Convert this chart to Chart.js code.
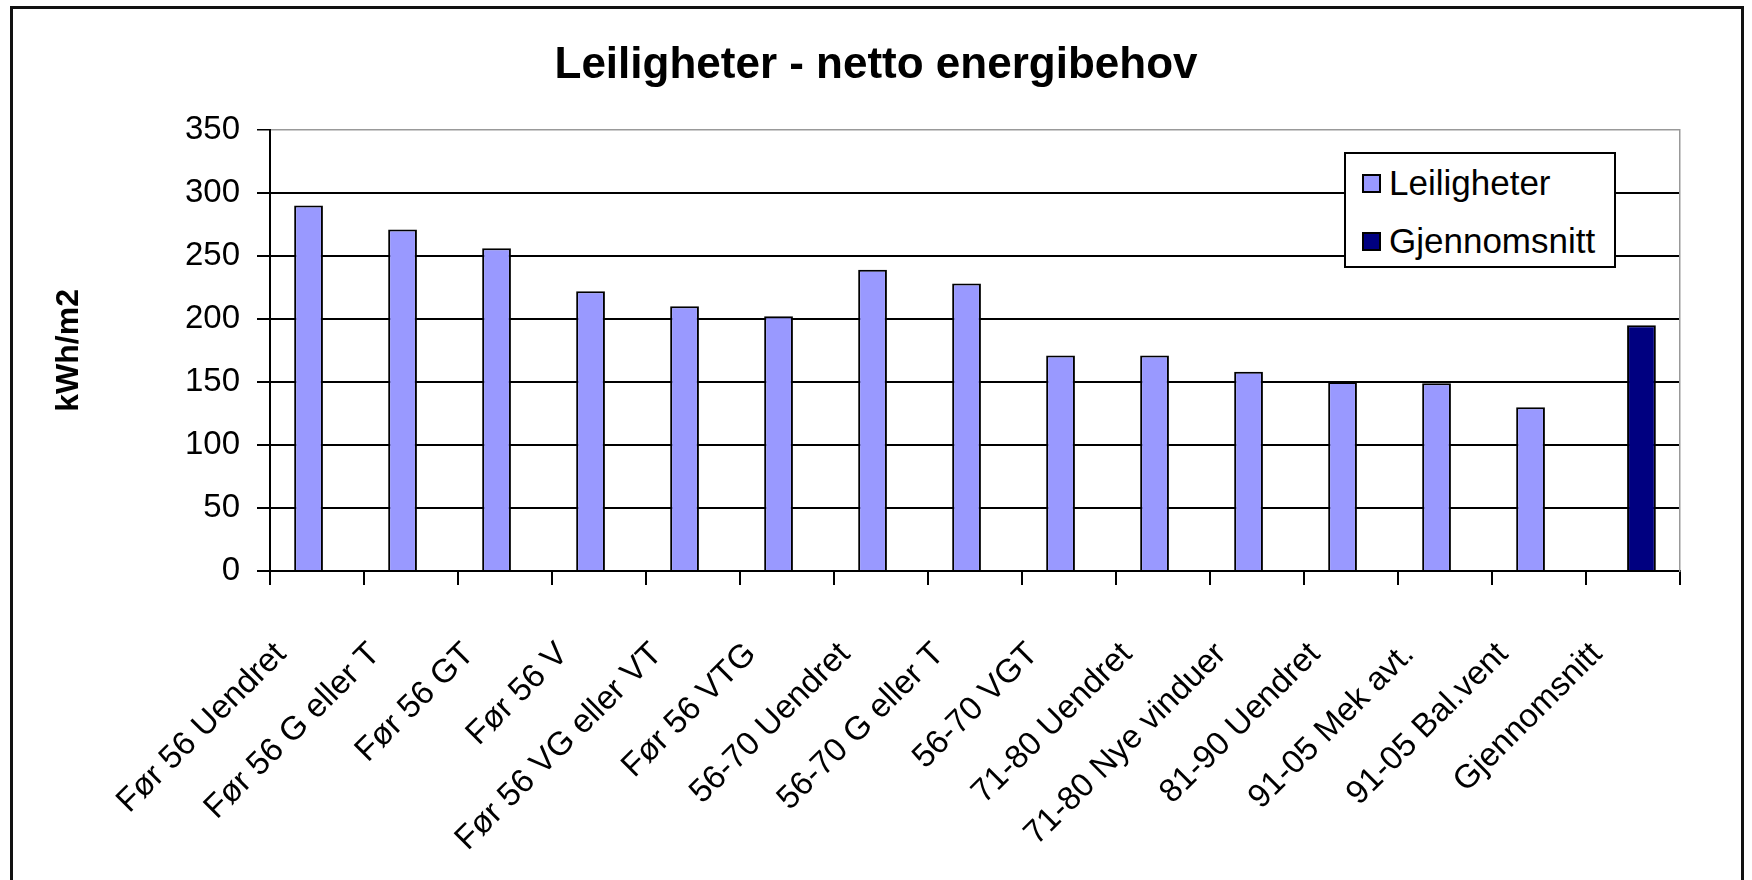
<!DOCTYPE html>
<html>
<head>
<meta charset="utf-8">
<script src="https://cdn.jsdelivr.net/npm/chart.js@4"></script>
<style>
  html, body { margin: 0; padding: 0; background: #fff; overflow: hidden; }
  #wrap { position: relative; width: 1752px; height: 880px; }
  #frame { position: absolute; left: 10px; top: 6px; width: 1734px; height: 900px; border: 3px solid #111; box-sizing: border-box; pointer-events: none; }
  #legend { position: absolute; left: 1344px; top: 152px; width: 272px; height: 116px; box-sizing: border-box;
            border: 2px solid #000; background: #fff; font-family: "Liberation Sans", Arial, sans-serif; font-size: 35px; color: #000; }
  #legend .row { position: absolute; left: 16px; display: flex; align-items: center; height: 40px; }
  #legend .box { width: 19px; height: 19px; border: 2px solid #000; box-sizing: border-box; margin-right: 8px; }
</style>
</head>
<body>
<div id="wrap">
  <canvas id="chart" width="1752" height="880"></canvas>
  <div id="frame"></div>
  <div id="legend"></div>
</div>
<script>
// Data
const categories = ['Før 56 Uendret', 'Før 56 G eller T', 'Før 56 GT', 'Før 56 V', 'Før 56 VG eller VT',
  'Før 56 VTG', '56-70 Uendret', '56-70 G eller T', '56-70 VGT', '71-80 Uendret',
  '71-80 Nye vinduer', '81-90 Uendret', '91-05 Mek avt.', '91-05 Bal.vent', 'Gjennomsnitt'];
const leiligheter = [290, 271, 256, 222, 210, 202, 239, 228, 171, 171, 158, 150, 149, 130, null];
const gjennomsnitt = [null, null, null, null, null, null, null, null, null, null, null, null, null, null, 195];
const yMax = 350;
const yStep = 50;

const font = '"Liberation Sans", Arial, sans-serif';

const chart = new Chart(document.getElementById('chart'), {
  type: 'bar',
  data: {
    labels: categories,
    datasets: [
      { label: 'Leiligheter', data: leiligheter, backgroundColor: '#9999FF', borderColor: '#000', borderWidth: 2 },
      { label: 'Gjennomsnitt', data: gjennomsnitt, backgroundColor: '#000080', borderColor: '#000', borderWidth: 2 }
    ]
  },
  options: {
    responsive: false,
    animation: false,
    categoryPercentage: 0.36,
    barPercentage: 1.7,
    layout: { padding: { top: 10, left: 0, right: 0, bottom: 0 } },
    plugins: {
      legend: { display: false },
      tooltip: { enabled: false },
      title: {
        display: true,
        text: 'Leiligheter - netto energibehov',
        color: '#000',
        font: { family: font, size: 44, weight: 'bold' },
        padding: { top: 29, bottom: 38 }
      }
    },
    scales: {
      x: {
        grid: { offset: true, drawOnChartArea: false, color: '#000', lineWidth: 2, tickLength: 14 },
        border: { color: '#000', width: 2 },
        ticks: {
          autoSkip: false, minRotation: 45, maxRotation: 45,
          labelOffset: -36, padding: 50,
          color: '#000', font: { family: font, size: 33 }
        },
        afterFit: function(s) { s.height = 309; }
      },
      y: {
        min: 0, max: yMax,
        ticks: { stepSize: yStep, padding: 17, color: '#000', font: { family: font, size: 33 } },
        grid: {
          color: c => c.tick && c.tick.value === yMax ? '#999' : '#000',
          lineWidth: c => c.tick && c.tick.value === yMax ? 1.5 : 2,
          tickColor: '#000', tickLength: 13
        },
        border: { color: '#000', width: 2 },
        title: {
          display: true, text: 'kWh/m2', color: '#000',
          font: { family: font, size: 32, weight: 'bold' },
          padding: { top: 50, bottom: 4 }
        },
        afterFit: function(s) { s.width = 270; }
      },
      y2: {
        position: 'right', min: 0, max: yMax,
        grid: { display: false },
        ticks: { display: false },
        border: { color: '#999', width: 1.5 },
        afterFit: function(s) { s.width = 72; }
      }
    }
  }
});

// HTML legend built from the datasets
const legendEl = document.getElementById('legend');
chart.data.datasets.forEach(function(ds, i) {
  const row = document.createElement('div');
  row.className = 'row';
  row.style.top = (i === 0 ? 9 : 67) + 'px';
  const box = document.createElement('span');
  box.className = 'box';
  box.style.background = ds.backgroundColor;
  row.appendChild(box);
  row.appendChild(document.createTextNode(ds.label));
  legendEl.appendChild(row);
});
</script>
</body>
</html>
